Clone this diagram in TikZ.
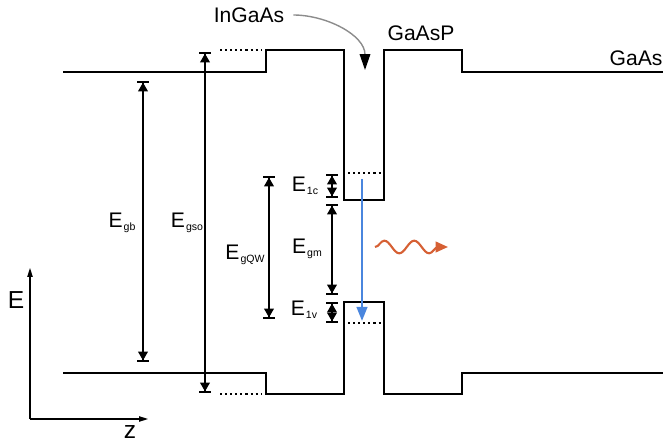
\documentclass[tikz,border=0pt]{standalone}
\usepackage{fontspec}
\setmainfont{Liberation Sans}
\usetikzlibrary{arrows.meta,decorations.pathmorphing}
\definecolor{transblue}{RGB}{74,134,222}
\definecolor{photonred}{RGB}{214,96,52}
\newcommand{\esub}[1]{E\kern.6pt\raisebox{-1.8pt}{\fontsize{6}{7}\selectfont #1}}
\tikzset{
  band/.style={line width=.8pt},
  level/.style={line width=1pt,dash pattern=on 1.2pt off 1.7pt},
  gap/.style={line width=.9pt,{Bar[width=6.5pt]Triangle[width=5.5pt,length=5pt]}-{Triangle[width=5.5pt,length=5pt]Bar[width=6.5pt]}},
  axis/.style={line width=.7pt,-{Triangle[width=3pt,length=5pt]}},
  pointer/.style={draw=black!45,line width=.8pt,-{Triangle[width=6pt,length=9pt,black]}},
  photon/.style={photonred,line width=1.2pt,decorate,decoration={snake,segment length=17pt,amplitude=3.6pt,post length=3pt},-{Triangle[width=6pt,length=7pt]}},
  every node/.style={font=\fontsize{12}{14}\selectfont,inner sep=1pt}
}
\begin{document}
\begin{tikzpicture}[x=0.02cm,y=-0.02cm]
\useasboundingbox (0,0) rectangle (663,442);
\draw[band] (63,72)--(266,72)--(266,50)--(344,50)--(344,200)--(384,200)--(384,50)--(462,50)--(462,72)--(663,72);
\draw[band] (63,373)--(266,373)--(266,394)--(344,394)--(344,302)--(384,302)--(384,394)--(462,394)--(462,373)--(663,373);
\draw[level] (220,50)--(261,50);
\draw[level] (220,394)--(261,394);
\draw[level] (348,173)--(381,173);
\draw[level] (348,323)--(381,323);
\coordinate (gbtop) at (143,81);
\coordinate (gbbot) at (143,362);
\coordinate (gsotop) at (205,52);
\coordinate (gsobot) at (205,393);
\coordinate (qwtop) at (269,176);
\coordinate (qwbot) at (269,319);
\coordinate (ctop) at (332,174);
\coordinate (cbot) at (332,198);
\coordinate (mtop) at (332,204);
\coordinate (mbot) at (332,295);
\coordinate (vtop) at (332,302);
\coordinate (vbot) at (332,323);
\draw[gap] (gbtop)--(gbbot);
\draw[gap] (gsotop)--(gsobot);
\draw[gap] (qwtop)--(qwbot);
\draw[gap] (ctop)--(cbot);
\draw[gap] (mtop)--(mbot);
\draw[gap] (vtop)--(vbot);
\node (lblgb) at (122,223) {\esub{gb}};
\node (lblgso) at (187,223) {\esub{gso}};
\node (lblqw) at (245,255) {\esub{gQW}};
\node (lblc) at (305,186) {\esub{1c}};
\node (lblm) at (307,249) {\esub{gm}};
\node (lblv) at (304,310) {\esub{1v}};
\coordinate (etop) at (362,179);
\coordinate (ebot) at (362,321);
\draw[transblue,line width=1.4pt,-{Triangle[width=6pt,length=8pt]}] (etop)--(ebot);
\coordinate (wave0) at (375,247);
\coordinate (wave1) at (448,247);
\draw[photon] (wave0)--(wave1);
\node (ingaas) at (249,15) {InGaAs};
\node (gaasp) at (421,33) {GaAsP};
\node (gaas) at (636,58) {GaAs};
\coordinate (welltip) at (365,70);
\draw[pointer,shorten <=4pt] (ingaas.east) .. controls +(40,0) and +(0,-35) .. (welltip);
\coordinate (origin) at (30,419);
\coordinate (eend) at (30,268);
\coordinate (zend) at (148,419);
\draw[axis] (origin)--(eend);
\draw[axis] (origin)--(zend);
\node[font=\fontsize{14}{16}\selectfont] (elbl) at (16,300) {E};
\node[font=\fontsize{14}{16}\selectfont] (zlbl) at (130,432) {z};
\end{tikzpicture}
\end{document}
